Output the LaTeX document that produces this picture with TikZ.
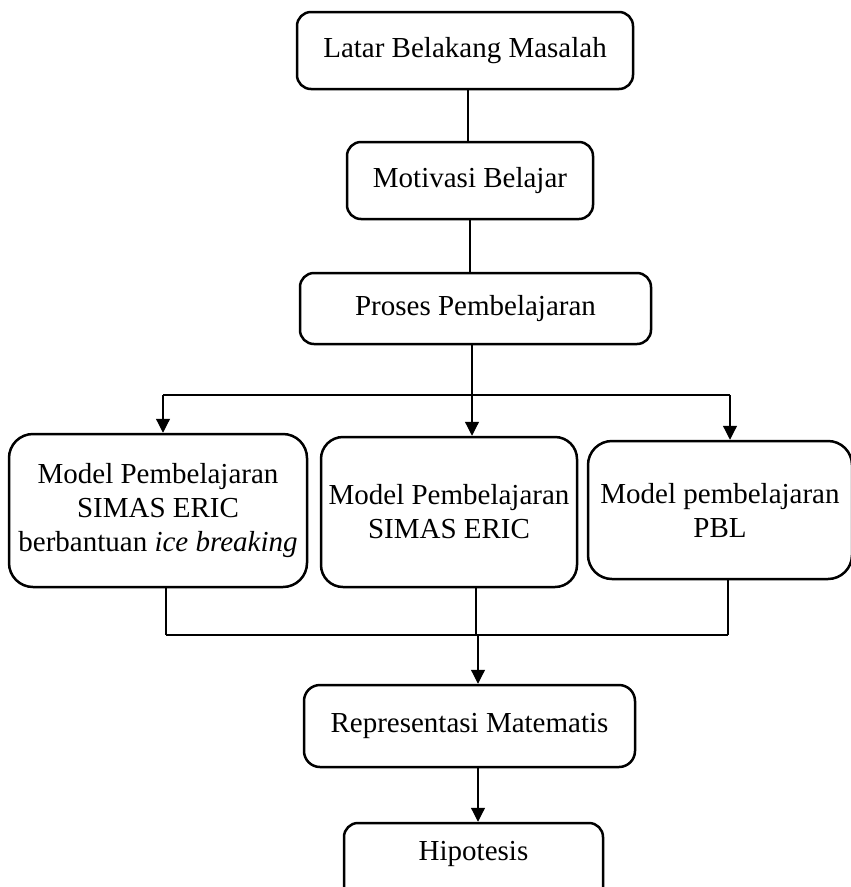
\documentclass[tikz,border=0pt]{standalone}
\usepackage{fontspec}
\setmainfont{Liberation Serif}
\usetikzlibrary{arrows.meta,calc}
\begin{document}
\begin{tikzpicture}[x=1pt,y=-1pt,
  box/.style={draw,line width=2.5pt,rounded corners=14pt,inner sep=0pt,align=center,
    font=\fontsize{29}{34}\selectfont},
  conn/.style={line width=1.2pt},
  arr/.style={line width=1.2pt,-{Triangle[length=14pt,width=14pt]}}]
\useasboundingbox (0,0) rectangle (851,887);
\clip (0,0) rectangle (851,887);
\fill[white] (0,0) rectangle (851,887);
\node[box,minimum width=336pt,minimum height=77pt] (b1) at (465,50.5) {Latar Belakang Masalah};
\node[box,minimum width=246pt,minimum height=77pt] (b2) at (470,180.5) {Motivasi Belajar};
\node[box,minimum width=351pt,minimum height=71pt] (b3) at (475.5,308.5) {Proses Pembelajaran};
\node[box,rounded corners=24pt,minimum width=298pt,minimum height=153pt] (b4) at (158,510.5) {Model Pembelajaran\\SIMAS ERIC\\berbantuan \textit{ice breaking}};
\node[box,rounded corners=22pt,minimum width=256pt,minimum height=150pt] (b5) at (449,512) {Model Pembelajaran\\SIMAS ERIC};
\node[box,rounded corners=24pt,minimum width=264pt,minimum height=138pt] (b6) at (720,510) {Model pembelajaran\\PBL};
\node[box,rounded corners=16pt,minimum width=331pt,minimum height=82pt] (b7) at (469.5,726) {Representasi Matematis};
\node[box,rounded corners=14pt,minimum width=259pt,minimum height=84pt] (b8) at (473.5,865) {\raisebox{28pt}{Hipotesis}};
% top chain
\coordinate (c1) at (468,0);
\draw[conn] (b1.south -| c1) -- (b2.north -| c1);
\draw[conn] (b2.south) -- (b2.south |- b3.north);
% split
\coordinate (sL) at (163,395);
\coordinate (sM) at (472,395);
\coordinate (sR) at (730,395);
\draw[conn] (b3.south -| sM) -- (sM);
\draw[conn] (sL) -- (sR);
\draw[arr] (sL) -- (sL |- b4.north);
\draw[arr] (sM) -- (sM |- b5.north);
\draw[arr] (sR) -- (sR |- b6.north);
% merge
\coordinate (mL) at (166,635);
\coordinate (mM) at (476,635);
\coordinate (mR) at (728,635);
\coordinate (mA) at (478,635);
\draw[conn] (b4.south -| mL) -- (mL);
\draw[conn] (b5.south -| mM) -- (mM);
\draw[conn] (b6.south -| mR) -- (mR);
\draw[conn] (mL) -- (mR);
\draw[arr] (mA) -- (mA |- b7.north);
\draw[arr] (b7.south -| mA) -- (b8.north -| mA);
\end{tikzpicture}
\end{document}
